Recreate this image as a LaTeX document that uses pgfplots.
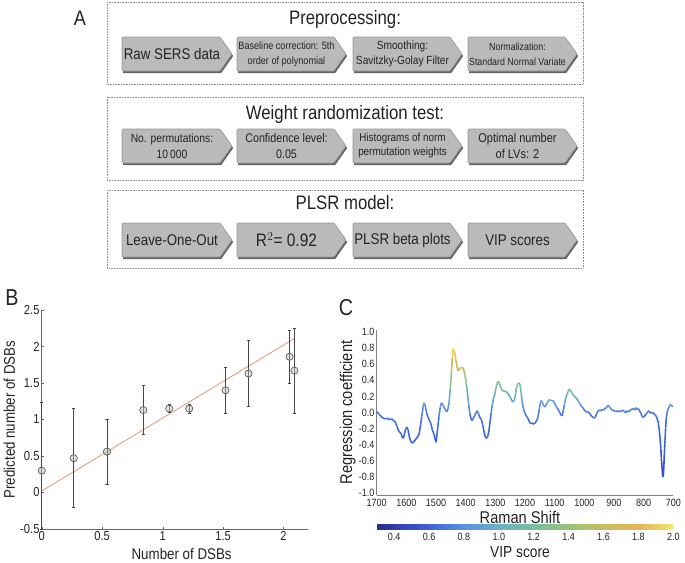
\documentclass[border=0pt]{standalone}
\usepackage{fontspec}
\setmainfont{Liberation Sans}[FakeStretch=0.86]
\usepackage{pgfplots}
\pgfplotsset{compat=1.18}
\usepackage{pgfplotstable}
\definecolor{boxgray}{RGB}{186,186,186}
\definecolor{edgegray}{RGB}{150,150,150}
\definecolor{shgray}{RGB}{100,100,100}
\definecolor{txt}{RGB}{35,35,35}
\definecolor{fitline}{RGB}{226,160,130}

\pgfplotstableread{
x y v
1700 0.01 0.70
1692 -0.02 0.68
1685 -0.05 0.67
1678 -0.07 0.66
1670 -0.08 0.66
1663 -0.07 0.66
1657 -0.09 0.66
1650 -0.08 0.66
1643 -0.10 0.66
1637 -0.12 0.65
1632 -0.17 0.64
1627 -0.22 0.63
1622 -0.25 0.62
1618 -0.26 0.62
1614 -0.31 0.60
1610 -0.32 0.60
1606 -0.26 0.62
1602 -0.20 0.63
1598 -0.18 0.64
1594 -0.22 0.63
1590 -0.30 0.61
1586 -0.35 0.59
1581 -0.38 0.58
1576 -0.37 0.59
1570 -0.34 0.60
1564 -0.31 0.60
1558 -0.28 0.61
1553 -0.18 0.64
1548 -0.05 0.67
1544 0.06 0.78
1540 0.12 0.88
1536 0.08 0.81
1532 0.00 0.68
1527 -0.06 0.67
1522 -0.10 0.66
1517 -0.14 0.65
1512 -0.22 0.63
1507 -0.27 0.61
1503 -0.33 0.60
1500 -0.37 0.59
1497 -0.28 0.61
1494 -0.18 0.64
1490 -0.05 0.67
1486 0.06 0.78
1482 0.12 0.88
1477 0.10 0.85
1472 0.06 0.78
1468 0.03 0.73
1464 0.01 0.70
1460 0.04 0.75
1456 0.12 0.88
1452 0.30 1.18
1448 0.50 1.51
1445 0.68 1.80
1442 0.80 2.00
1438 0.76 1.93
1434 0.68 1.80
1430 0.58 1.64
1426 0.52 1.54
1422 0.53 1.55
1417 0.56 1.60
1412 0.56 1.60
1407 0.54 1.57
1402 0.46 1.44
1398 0.36 1.27
1394 0.24 1.08
1390 0.10 0.85
1386 -0.01 0.68
1382 -0.08 0.66
1378 -0.10 0.66
1374 -0.07 0.66
1370 -0.04 0.67
1366 -0.01 0.68
1362 0.02 0.71
1358 0.00 0.68
1354 -0.05 0.67
1350 -0.07 0.66
1346 -0.10 0.66
1342 -0.16 0.64
1338 -0.24 0.62
1334 -0.30 0.61
1330 -0.32 0.60
1326 -0.30 0.61
1322 -0.24 0.62
1318 -0.12 0.65
1314 0.00 0.68
1310 0.10 0.85
1306 0.18 0.98
1302 0.22 1.04
1298 0.30 1.18
1294 0.36 1.27
1290 0.39 1.32
1286 0.36 1.27
1282 0.32 1.21
1278 0.28 1.14
1274 0.27 1.13
1270 0.27 1.13
1265 0.26 1.11
1260 0.25 1.09
1255 0.22 1.04
1250 0.19 0.99
1245 0.15 0.93
1241 0.13 0.89
1237 0.15 0.93
1233 0.20 1.01
1229 0.30 1.18
1225 0.35 1.26
1221 0.37 1.29
1217 0.35 1.26
1213 0.25 1.09
1209 0.12 0.88
1205 0.04 0.75
1201 0.00 0.68
1197 -0.03 0.67
1193 -0.06 0.67
1189 -0.08 0.66
1185 -0.12 0.65
1181 -0.14 0.65
1177 -0.13 0.65
1172 -0.14 0.65
1168 -0.14 0.65
1164 -0.12 0.65
1160 -0.10 0.66
1156 -0.05 0.67
1152 0.04 0.75
1148 0.12 0.88
1145 0.15 0.93
1141 0.12 0.88
1137 0.08 0.81
1133 0.07 0.80
1129 0.09 0.83
1125 0.12 0.88
1121 0.15 0.93
1117 0.16 0.94
1112 0.15 0.93
1107 0.15 0.93
1102 0.13 0.89
1097 0.09 0.83
1092 0.06 0.78
1087 0.03 0.73
1083 0.00 0.68
1079 -0.03 0.67
1075 -0.04 0.67
1071 0.02 0.71
1067 0.10 0.85
1063 0.17 0.96
1059 0.22 1.04
1055 0.26 1.11
1051 0.29 1.16
1047 0.28 1.14
1043 0.25 1.09
1039 0.23 1.06
1035 0.21 1.03
1030 0.19 0.99
1025 0.17 0.96
1020 0.14 0.91
1015 0.11 0.86
1010 0.08 0.81
1005 0.06 0.78
1000 0.03 0.73
995 0.01 0.70
990 0.01 0.70
985 0.00 0.68
980 -0.02 0.68
975 -0.05 0.67
970 -0.06 0.67
966 -0.07 0.66
962 -0.05 0.67
958 -0.01 0.68
954 0.02 0.71
950 0.03 0.73
945 0.02 0.71
940 0.04 0.75
935 0.03 0.73
930 0.05 0.76
925 0.06 0.78
920 0.09 0.83
915 0.07 0.80
910 0.04 0.75
905 0.03 0.73
900 0.02 0.71
895 0.02 0.71
890 0.01 0.70
885 0.02 0.71
880 0.01 0.70
875 0.02 0.71
870 0.03 0.73
865 0.01 0.70
860 0.00 0.68
855 0.02 0.71
850 0.01 0.70
845 0.03 0.73
840 0.04 0.75
835 0.05 0.76
830 0.03 0.73
826 0.06 0.78
822 0.04 0.75
818 0.05 0.76
814 0.02 0.71
810 0.00 0.68
806 -0.04 0.67
802 -0.06 0.67
798 -0.05 0.67
794 -0.03 0.67
790 -0.01 0.68
786 0.01 0.70
782 0.02 0.71
778 0.00 0.68
774 -0.01 0.68
770 0.00 0.68
766 -0.01 0.68
762 -0.03 0.67
758 -0.04 0.67
754 -0.08 0.66
751 -0.12 0.65
748 -0.20 0.63
745 -0.30 0.61
742 -0.45 0.57
740 -0.58 0.54
738 -0.68 0.51
736 -0.78 0.49
734 -0.80 0.48
732 -0.68 0.51
730 -0.50 0.56
728 -0.35 0.59
726 -0.20 0.63
724 -0.08 0.66
721 0.00 0.68
718 0.04 0.75
714 0.07 0.80
710 0.10 0.85
706 0.09 0.83
702 0.07 0.80
}\ramandata

% arrow: x0 x1 y0 y1 font text
\newcommand{\arr}[6]{%
  \fill[shgray] ({#1+1.2},{#3+2}) -- ({#2-12+1.2},{#3+2}) -- ({#2+1.2},{(#3+#4)/2+2}) -- ({#2-12+1.2},{#4+2}) -- ({#1+1.2},{#4+2}) -- cycle;
  \filldraw[fill=boxgray, draw=edgegray, line width=0.6pt, rounded corners=1pt] (#1,#3) -- ({#2-12},#3) -- (#2,{(#3+#4)/2}) -- ({#2-12},#4) -- (#1,#4) -- cycle;
  \node[align=center, font=#5, text=txt, inner sep=0pt] at ({(#1+#2-10)/2},{(#3+#4)/2}) {#6};
}

\begin{document}
\begin{tikzpicture}
\path[use as bounding box] (0pt,0pt) rectangle (685pt,-562pt);

\begin{scope}[x=1pt,y=-1pt]
  \node[font=\fontsize{21}{24}\selectfont, text=txt] at (80,18) {A};
  \node[font=\fontsize{23}{26}\selectfont, text=txt] at (12,298) {B};
  \node[font=\fontsize{23}{26}\selectfont, text=txt] at (346,308) {C};

  \draw[black!45, line width=0.6pt, dash pattern=on 0.7pt off 0.9pt] (107,2) rectangle (583,84);
  \draw[black!45, line width=0.6pt, dash pattern=on 0.7pt off 0.9pt] (107,97) rectangle (583,180);
  \draw[black!45, line width=0.6pt, dash pattern=on 0.7pt off 0.9pt] (107,190) rectangle (583,268);

  \node[font=\fontsize{19.5}{22}\selectfont, text=txt] at (345,19) {Preprocessing:};
  \node[font=\fontsize{19.5}{22}\selectfont, text=txt] at (345,114) {Weight randomization test:};
  \node[font=\fontsize{19.5}{22}\selectfont, text=txt] at (345,203) {PLSR model:};

  \arr{122}{232}{37}{71}{\fontsize{15.5}{17}\selectfont}{Raw SERS data}
  \arr{237}{346}{37}{71}{\fontsize{10.6}{15}\selectfont}{Baseline correction: 5th\\order of polynomial}
  \arr{353}{462}{37}{71}{\fontsize{11.8}{15.5}\selectfont}{Smoothing:\\Savitzky-Golay Filter}
  \arr{468}{577}{37}{71}{\fontsize{10.3}{15}\selectfont}{Normalization:\\Standard Normal Variate}

  \arr{122}{232}{129}{163}{\fontsize{12}{16}\selectfont}{No. permutations:\\10\,000}
  \arr{237}{346}{129}{163}{\fontsize{12.5}{16}\selectfont}{Confidence level:\\0.05}
  \arr{353}{462}{129}{163}{\fontsize{11.5}{14}\selectfont}{Histograms of norm\\permutation weights}
  \arr{468}{577}{129}{163}{\fontsize{12.8}{16}\selectfont}{Optimal number\\of LVs: 2}

  \arr{122}{232}{223}{257}{\fontsize{15.5}{17}\selectfont}{Leave-One-Out}
  \arr{237}{346}{223}{257}{\fontsize{18}{20}\selectfont}{R$^{2}$= 0.92}
  \arr{353}{462}{223}{257}{\fontsize{15.5}{17}\selectfont}{PLSR beta plots}
  \arr{468}{577}{223}{257}{\fontsize{15.5}{17}\selectfont}{VIP scores}
\end{scope}

% ---------------- Panel B ----------------
\begin{axis}[
  at={(41.7pt,-529pt)}, anchor=south west, scale only axis,
  width=266pt, height=219pt,
  xmin=0, xmax=2.2, ymin=-0.5, ymax=2.5,
  axis lines*=left,
  axis line style={draw=black!60, line width=0.8pt},
  xtick={0,0.5,1,1.5,2}, xticklabels={0,0.5,1,1.5,2},
  ytick={-0.5,0,0.5,1,1.5,2,2.5}, yticklabels={-0.5,0,0.5,1,1.5,2,2.5},
  tick style={draw=black!60}, major tick length=2pt, tick align=inside,
  ticklabel style={font=\fontsize{13}{15}\selectfont, text=txt, inner sep=2pt},
  xlabel={Number of DSBs}, ylabel={Predicted number of DSBs},
  label style={font=\fontsize{15.5}{18}\selectfont, text=txt},
  xlabel style={at={(axis description cs:0.526,-0.114)}, anchor=center},
  ylabel style={at={(axis description cs:-0.122,0.5)}, anchor=center},
  clip=false,
]
\addplot[fitline, line width=0.9pt, no marks] coordinates {(0,0.02) (2.09,2.11)};
\addplot[only marks, mark=*, mark size=3.6pt,
  mark options={fill=black!25, fill opacity=0.45, draw=black!65, line width=0.7pt},
  error bars/.cd, y dir=both, y explicit,
  error bar style={draw=black!72, line width=0.9pt},
  error mark options={rotate=90, mark size=1.6pt, draw=black!72, line width=0.7pt}]
coordinates {
  (0,0.30) += (0,0.94) -= (0,0.80)
  (0.265,0.47) +- (0,0.68)
  (0.54,0.56) +- (0,0.445)
  (0.84,1.13) +- (0,0.34)
  (1.055,1.15) +- (0,0.055)
  (1.22,1.15) +- (0,0.06)
  (1.52,1.40) +- (0,0.32)
  (1.71,1.63) +- (0,0.455)
  (2.05,1.86) +- (0,0.365)
  (2.09,1.67) +- (0,0.58)
};
\end{axis}

% ---------------- Panel C ----------------
\begin{axis}[
  at={(376.7pt,-495.4pt)}, anchor=south west, scale only axis,
  width=296.6pt, height=165.8pt,
  xmin=700, xmax=1700, x dir=reverse, ymin=-1.03, ymax=1.03,
  axis lines*=left,
  axis line style={draw=black!50, line width=0.7pt},
  xtick={700,800,900,1000,1100,1200,1300,1400,1500,1600,1700},
  xticklabels={700,800,900,1000,1100,1200,1300,1400,1500,1600,1700},
  ytick={-1,-0.8,-0.6,-0.4,-0.2,0,0.2,0.4,0.6,0.8,1},
  yticklabels={-1.0,-0.8,-0.6,-0.4,-0.2,0.0,0.2,0.4,0.6,0.8,1.0},
  major tick length=0pt,
  ticklabel style={font=\fontsize{10.5}{12}\selectfont, text=txt, inner sep=2pt},
  xticklabel style={yshift=-2pt},
  xlabel={Raman Shift}, ylabel={Regression coefficient},
  label style={font=\fontsize{17}{20}\selectfont, text=txt},
  xlabel style={at={(axis description cs:0.483,-0.13)}, anchor=center},
  ylabel style={at={(axis description cs:-0.098,0.5)}, anchor=center},
  point meta min=0.3, point meta max=2.0,
  colormap={vip}{rgb255(3cm)=(40,44,140) rgb255(4cm)=(50,60,175) rgb255(6cm)=(62,100,215) rgb255(8cm)=(92,145,225) rgb255(10cm)=(110,175,200) rgb255(12cm)=(122,190,160) rgb255(14cm)=(150,195,120) rgb255(16cm)=(200,190,95) rgb255(18cm)=(230,180,85) rgb255(20cm)=(240,232,110)},
  colorbar horizontal,
  colorbar style={
    at={(parent axis.south west)}, anchor=north west, yshift=-21pt,
    scale only axis, width=296.6pt, height=5pt,
    xtick={0.4,0.6,0.8,1.0,1.2,1.4,1.6,1.8,2.0},
    xticklabels={0.4,0.6,0.8,1.0,1.2,1.4,1.6,1.8,2.0},
    major tick length=0pt,
    axis line style={draw=none},
    xticklabel style={font=\fontsize{10.5}{12}\selectfont, text=txt, inner sep=2pt, yshift=-1pt},
    xlabel={VIP score},
    xlabel style={font=\fontsize{16}{18}\selectfont, text=txt, at={(axis description cs:0.483,-4.5)}, anchor=center},
  },
  clip=false,
]
\addplot[mesh, line width=1.6pt, point meta=explicit, shader=flat] table[x=x, y=y, meta=v] {\ramandata};
\end{axis}
\end{tikzpicture}
\end{document}
